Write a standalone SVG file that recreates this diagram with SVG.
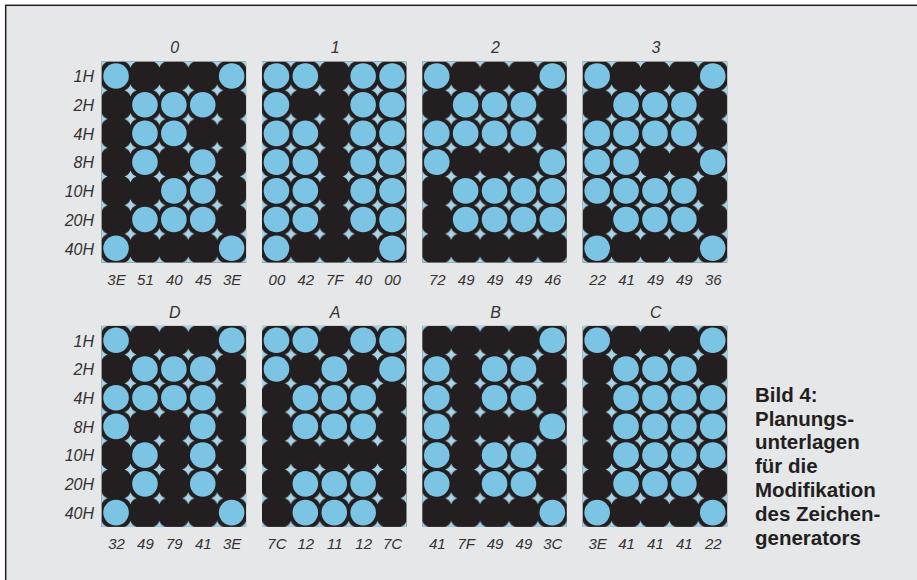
<svg xmlns="http://www.w3.org/2000/svg" width="917" height="580" viewBox="0 0 917 580">
<style>
.bg{fill:#e6e7e8;stroke:#231f20;stroke-width:1.5}
.pb{fill:#231f20}
.pd{fill:url(#dia)}
.on{fill:#7bc4e3;r:12.8px}
.t{font-family:"Liberation Sans",Arial,sans-serif;font-style:italic;fill:#333132;font-size:16px}
.ttl{text-anchor:middle}
.hx{text-anchor:middle;font-size:15px}
.rl{text-anchor:end}
.cap{font-family:"Liberation Sans",Arial,sans-serif;font-weight:bold;font-size:20.5px;fill:#231f20}
</style>
<defs>
<pattern id="dia" patternUnits="userSpaceOnUse" x="14.45" y="14.36" width="28.9" height="28.72">
<path d="M14.45,8.5 Q16,12.8 20.4,14.36 Q16,15.9 14.45,20.2 Q12.9,15.9 8.5,14.36 Q12.9,12.8 14.45,8.5Z" fill="#a8d4e8"/>
</pattern>
</defs>
<rect width="917" height="580" fill="#ffffff"/>
<rect class="bg" x="5.7" y="5.3" width="930" height="600"/>

<g id="rowlabels-top" class="t rl">
<text x="94" y="82.3">1H</text><text x="94" y="111">2H</text><text x="94" y="139.7">4H</text><text x="94" y="168.4">8H</text><text x="94" y="197.1">10H</text><text x="94" y="225.9">20H</text><text x="94" y="254.6">40H</text>
</g>
<g id="rowlabels-bottom" class="t rl">
<text x="94" y="346.6">1H</text><text x="94" y="375.3">2H</text><text x="94" y="404">4H</text><text x="94" y="432.7">8H</text><text x="94" y="461.4">10H</text><text x="94" y="490.2">20H</text><text x="94" y="518.9">40H</text>
</g>

<g id="panel-0" transform="translate(101.6,61.6)">
<rect class="pb" width="144.5" height="201"/><rect class="pd" width="144.5" height="201"/>
<circle class="on" cx="14.45" cy="14.36"/><circle class="on" cx="14.45" cy="186.68"/>
<circle class="on" cx="43.35" cy="43.08"/><circle class="on" cx="43.35" cy="71.8"/><circle class="on" cx="43.35" cy="100.52"/><circle class="on" cx="43.35" cy="157.96"/>
<circle class="on" cx="72.25" cy="43.08"/><circle class="on" cx="72.25" cy="71.8"/><circle class="on" cx="72.25" cy="129.24"/><circle class="on" cx="72.25" cy="157.96"/>
<circle class="on" cx="101.15" cy="43.08"/><circle class="on" cx="101.15" cy="100.52"/><circle class="on" cx="101.15" cy="129.24"/><circle class="on" cx="101.15" cy="157.96"/>
<circle class="on" cx="130.05" cy="14.36"/><circle class="on" cx="130.05" cy="186.68"/>
<text class="t ttl" x="73.2" y="-8.3">0</text>
<g class="t hx"><text x="14.95" y="223.5">3E</text><text x="43.85" y="223.5">51</text><text x="72.75" y="223.5">40</text><text x="101.65" y="223.5">45</text><text x="130.55" y="223.5">3E</text></g>
</g>

<g id="panel-1" transform="translate(262,61.6)">
<rect class="pb" width="144.5" height="201"/><rect class="pd" width="144.5" height="201"/>
<circle class="on" cx="14.45" cy="14.36"/><circle class="on" cx="14.45" cy="43.08"/><circle class="on" cx="14.45" cy="71.8"/><circle class="on" cx="14.45" cy="100.52"/><circle class="on" cx="14.45" cy="129.24"/><circle class="on" cx="14.45" cy="157.96"/><circle class="on" cx="14.45" cy="186.68"/>
<circle class="on" cx="43.35" cy="14.36"/><circle class="on" cx="43.35" cy="71.8"/><circle class="on" cx="43.35" cy="100.52"/><circle class="on" cx="43.35" cy="129.24"/><circle class="on" cx="43.35" cy="157.96"/>
<circle class="on" cx="101.15" cy="14.36"/><circle class="on" cx="101.15" cy="43.08"/><circle class="on" cx="101.15" cy="71.8"/><circle class="on" cx="101.15" cy="100.52"/><circle class="on" cx="101.15" cy="129.24"/><circle class="on" cx="101.15" cy="157.96"/>
<circle class="on" cx="130.05" cy="14.36"/><circle class="on" cx="130.05" cy="43.08"/><circle class="on" cx="130.05" cy="71.8"/><circle class="on" cx="130.05" cy="100.52"/><circle class="on" cx="130.05" cy="129.24"/><circle class="on" cx="130.05" cy="157.96"/><circle class="on" cx="130.05" cy="186.68"/>
<text class="t ttl" x="73.2" y="-8.3">1</text>
<g class="t hx"><text x="14.95" y="223.5">00</text><text x="43.85" y="223.5">42</text><text x="72.75" y="223.5">7F</text><text x="101.65" y="223.5">40</text><text x="130.55" y="223.5">00</text></g>
</g>

<g id="panel-2" transform="translate(422.3,61.6)">
<rect class="pb" width="144.5" height="201"/><rect class="pd" width="144.5" height="201"/>
<circle class="on" cx="14.45" cy="14.36"/><circle class="on" cx="14.45" cy="71.8"/><circle class="on" cx="14.45" cy="100.52"/>
<circle class="on" cx="43.35" cy="43.08"/><circle class="on" cx="43.35" cy="71.8"/><circle class="on" cx="43.35" cy="129.24"/><circle class="on" cx="43.35" cy="157.96"/>
<circle class="on" cx="72.25" cy="43.08"/><circle class="on" cx="72.25" cy="71.8"/><circle class="on" cx="72.25" cy="129.24"/><circle class="on" cx="72.25" cy="157.96"/>
<circle class="on" cx="101.15" cy="43.08"/><circle class="on" cx="101.15" cy="71.8"/><circle class="on" cx="101.15" cy="129.24"/><circle class="on" cx="101.15" cy="157.96"/>
<circle class="on" cx="130.05" cy="14.36"/><circle class="on" cx="130.05" cy="100.52"/><circle class="on" cx="130.05" cy="129.24"/><circle class="on" cx="130.05" cy="157.96"/>
<text class="t ttl" x="73.2" y="-8.3">2</text>
<g class="t hx"><text x="14.95" y="223.5">72</text><text x="43.85" y="223.5">49</text><text x="72.75" y="223.5">49</text><text x="101.65" y="223.5">49</text><text x="130.55" y="223.5">46</text></g>
</g>

<g id="panel-3" transform="translate(582.7,61.6)">
<rect class="pb" width="144.5" height="201"/><rect class="pd" width="144.5" height="201"/>
<circle class="on" cx="14.45" cy="14.36"/><circle class="on" cx="14.45" cy="71.8"/><circle class="on" cx="14.45" cy="100.52"/><circle class="on" cx="14.45" cy="129.24"/><circle class="on" cx="14.45" cy="186.68"/>
<circle class="on" cx="43.35" cy="43.08"/><circle class="on" cx="43.35" cy="71.8"/><circle class="on" cx="43.35" cy="100.52"/><circle class="on" cx="43.35" cy="129.24"/><circle class="on" cx="43.35" cy="157.96"/>
<circle class="on" cx="72.25" cy="43.08"/><circle class="on" cx="72.25" cy="71.8"/><circle class="on" cx="72.25" cy="129.24"/><circle class="on" cx="72.25" cy="157.96"/>
<circle class="on" cx="101.15" cy="43.08"/><circle class="on" cx="101.15" cy="71.8"/><circle class="on" cx="101.15" cy="129.24"/><circle class="on" cx="101.15" cy="157.96"/>
<circle class="on" cx="130.05" cy="14.36"/><circle class="on" cx="130.05" cy="100.52"/><circle class="on" cx="130.05" cy="186.68"/>
<text class="t ttl" x="73.2" y="-8.3">3</text>
<g class="t hx"><text x="14.95" y="223.5">22</text><text x="43.85" y="223.5">41</text><text x="72.75" y="223.5">49</text><text x="101.65" y="223.5">49</text><text x="130.55" y="223.5">36</text></g>
</g>

<g id="panel-D" transform="translate(101.6,325.9)">
<rect class="pb" width="144.5" height="201"/><rect class="pd" width="144.5" height="201"/>
<circle class="on" cx="14.45" cy="14.36"/><circle class="on" cx="14.45" cy="71.8"/><circle class="on" cx="14.45" cy="100.52"/><circle class="on" cx="14.45" cy="186.68"/>
<circle class="on" cx="43.35" cy="43.08"/><circle class="on" cx="43.35" cy="71.8"/><circle class="on" cx="43.35" cy="129.24"/><circle class="on" cx="43.35" cy="157.96"/>
<circle class="on" cx="72.25" cy="43.08"/><circle class="on" cx="72.25" cy="71.8"/>
<circle class="on" cx="101.15" cy="43.08"/><circle class="on" cx="101.15" cy="71.8"/><circle class="on" cx="101.15" cy="100.52"/><circle class="on" cx="101.15" cy="129.24"/><circle class="on" cx="101.15" cy="157.96"/>
<circle class="on" cx="130.05" cy="14.36"/><circle class="on" cx="130.05" cy="186.68"/>
<text class="t ttl" x="73.2" y="-8.3">D</text>
<g class="t hx"><text x="14.95" y="223.5">32</text><text x="43.85" y="223.5">49</text><text x="72.75" y="223.5">79</text><text x="101.65" y="223.5">41</text><text x="130.55" y="223.5">3E</text></g>
</g>

<g id="panel-A" transform="translate(262,325.9)">
<rect class="pb" width="144.5" height="201"/><rect class="pd" width="144.5" height="201"/>
<circle class="on" cx="14.45" cy="14.36"/><circle class="on" cx="14.45" cy="43.08"/>
<circle class="on" cx="43.35" cy="14.36"/><circle class="on" cx="43.35" cy="71.8"/><circle class="on" cx="43.35" cy="100.52"/><circle class="on" cx="43.35" cy="157.96"/><circle class="on" cx="43.35" cy="186.68"/>
<circle class="on" cx="72.25" cy="43.08"/><circle class="on" cx="72.25" cy="71.8"/><circle class="on" cx="72.25" cy="100.52"/><circle class="on" cx="72.25" cy="157.96"/><circle class="on" cx="72.25" cy="186.68"/>
<circle class="on" cx="101.15" cy="14.36"/><circle class="on" cx="101.15" cy="71.8"/><circle class="on" cx="101.15" cy="100.52"/><circle class="on" cx="101.15" cy="157.96"/><circle class="on" cx="101.15" cy="186.68"/>
<circle class="on" cx="130.05" cy="14.36"/><circle class="on" cx="130.05" cy="43.08"/>
<text class="t ttl" x="73.2" y="-8.3">A</text>
<g class="t hx"><text x="14.95" y="223.5">7C</text><text x="43.85" y="223.5">12</text><text x="72.75" y="223.5">11</text><text x="101.65" y="223.5">12</text><text x="130.55" y="223.5">7C</text></g>
</g>

<g id="panel-B" transform="translate(422.3,325.9)">
<rect class="pb" width="144.5" height="201"/><rect class="pd" width="144.5" height="201"/>
<circle class="on" cx="14.45" cy="43.08"/><circle class="on" cx="14.45" cy="71.8"/><circle class="on" cx="14.45" cy="100.52"/><circle class="on" cx="14.45" cy="129.24"/><circle class="on" cx="14.45" cy="157.96"/>
<circle class="on" cx="72.25" cy="43.08"/><circle class="on" cx="72.25" cy="71.8"/><circle class="on" cx="72.25" cy="129.24"/><circle class="on" cx="72.25" cy="157.96"/>
<circle class="on" cx="101.15" cy="43.08"/><circle class="on" cx="101.15" cy="71.8"/><circle class="on" cx="101.15" cy="129.24"/><circle class="on" cx="101.15" cy="157.96"/>
<circle class="on" cx="130.05" cy="14.36"/><circle class="on" cx="130.05" cy="100.52"/><circle class="on" cx="130.05" cy="186.68"/>
<text class="t ttl" x="73.2" y="-8.3">B</text>
<g class="t hx"><text x="14.95" y="223.5">41</text><text x="43.85" y="223.5">7F</text><text x="72.75" y="223.5">49</text><text x="101.65" y="223.5">49</text><text x="130.55" y="223.5">3C</text></g>
</g>

<g id="panel-C" transform="translate(582.7,325.9)">
<rect class="pb" width="144.5" height="201"/><rect class="pd" width="144.5" height="201"/>
<circle class="on" cx="14.45" cy="14.36"/><circle class="on" cx="14.45" cy="186.68"/>
<circle class="on" cx="43.35" cy="43.08"/><circle class="on" cx="43.35" cy="71.8"/><circle class="on" cx="43.35" cy="100.52"/><circle class="on" cx="43.35" cy="129.24"/><circle class="on" cx="43.35" cy="157.96"/>
<circle class="on" cx="72.25" cy="43.08"/><circle class="on" cx="72.25" cy="71.8"/><circle class="on" cx="72.25" cy="100.52"/><circle class="on" cx="72.25" cy="129.24"/><circle class="on" cx="72.25" cy="157.96"/>
<circle class="on" cx="101.15" cy="43.08"/><circle class="on" cx="101.15" cy="71.8"/><circle class="on" cx="101.15" cy="100.52"/><circle class="on" cx="101.15" cy="129.24"/><circle class="on" cx="101.15" cy="157.96"/>
<circle class="on" cx="130.05" cy="14.36"/><circle class="on" cx="130.05" cy="71.8"/><circle class="on" cx="130.05" cy="100.52"/><circle class="on" cx="130.05" cy="129.24"/><circle class="on" cx="130.05" cy="186.68"/>
<text class="t ttl" x="73.2" y="-8.3">C</text>
<g class="t hx"><text x="14.95" y="223.5">3E</text><text x="43.85" y="223.5">41</text><text x="72.75" y="223.5">41</text><text x="101.65" y="223.5">41</text><text x="130.55" y="223.5">22</text></g>
</g>

<g id="caption" class="cap">
<text x="755" y="401.7">Bild 4:</text>
<text x="755" y="425.5">Planungs-</text>
<text x="755" y="449.3">unterlagen</text>
<text x="755" y="473.2">für die</text>
<text x="755" y="497">Modifikation</text>
<text x="755" y="520.8">des Zeichen-</text>
<text x="755" y="544.6">generators</text>
</g>
<g id="connectors"/>
</svg>
